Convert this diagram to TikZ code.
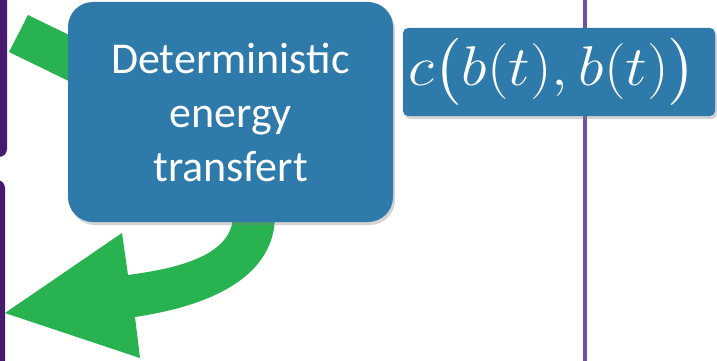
\documentclass[tikz,border=0pt]{standalone}
\usepackage{amsmath,amssymb}
\usepackage{graphicx}
\usepackage{fontspec}
\setmainfont{Carlito}
\usepackage{tikz}
\usetikzlibrary{shapes,arrows,positioning,calc,shadows}
\usepackage{xcolor}
\definecolor{boxblue}{RGB}{46,122,170}
\definecolor{flowgreen}{RGB}{40,178,80}
\definecolor{darkpurple}{RGB}{72,26,110}
\definecolor{linepurple}{RGB}{112,80,160}

\begin{document}
\begin{tikzpicture}[x=1pt,y=-1pt,
    bluebox/.style={fill=boxblue, text=white, align=center, inner sep=0pt,
        drop shadow={shadow xshift=2pt, shadow yshift=-3pt, opacity=.35}}]
                    \useasboundingbox (0,0) rectangle (717,361);
                    % purple boxes on the left
                    \fill[darkpurple, rounded corners=8pt] (-40,-40) rectangle (7,157);
                    \fill[darkpurple, rounded corners=8pt] (-40,180) rectangle (5,420);
                    % separator
                    \draw[linepurple, line width=3.5pt] (585,-5) -- (585,366);
                    % incoming flow
                    \fill[flowgreen] (9,52) -- (28,15) -- (100,50) -- (81,87) -- cycle;
                    % outgoing flow
                    \coordinate (tip) at (5,313);
                    \coordinate (barbup) at (122,233);
                    \coordinate (barbdown) at (140,358);
                    \fill[flowgreen] (233,200) -- (233,215)
                        .. controls (233,255) and (180,268) .. (128,275)
                        -- (barbup) -- (tip) -- (barbdown) -- (135,317)
                        .. controls (215,305) and (275,275) .. (275,215)
                        -- (275,200) -- cycle;
                    % boxes
                    \node[bluebox, rounded corners=25pt, minimum width=325pt, minimum height=220pt,
                        font=\fontsize{44}{54}\selectfont] (det) at (230.5,112)
                        {Deterministic\\energy\\transfert};
                    \node[bluebox, rounded corners=5pt, minimum width=312pt, minimum height=88pt,
                        font=\Huge] (cost) at (559,72)
                        {\scalebox{2.45}[2.25]{$c\bigl(b(t),b(t)\bigr)$}\hspace{13pt}};
                \end{tikzpicture}
\end{document}
